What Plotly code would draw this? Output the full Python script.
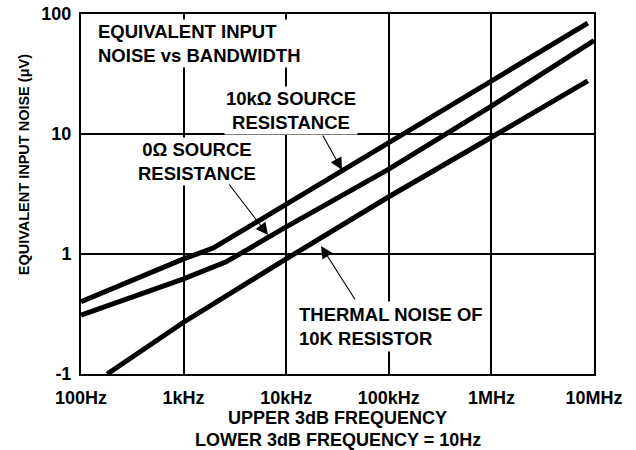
import plotly.graph_objects as go

# ---- data ----
freq_10k = [100, 1000, 1940, 1e4, 1e5, 1e6, 8.7e6]
noise_10k = [0.40, 0.91, 1.12, 2.6, 8.7, 27.7, 84]

freq_0 = [100, 1000, 2600, 1e4, 1e5, 1e6, 1e7]
noise_0 = [0.31, 0.62, 0.86, 1.68, 5.1, 17.1, 60]

freq_th = [180, 1000, 1e4, 1e5, 1e6, 8.7e6]
noise_th = [0.10, 0.27, 0.91, 3.0, 9.4, 27.7]

x_tickvals = [1e2, 1e3, 1e4, 1e5, 1e6, 1e7]
x_ticktext = ["100Hz", "1kHz", "10kHz", "100kHz", "1MHz", "10MHz"]
y_tickvals = [0.1, 1, 10, 100]
y_ticktext = ["-1", "1", "10", "100"]

FONT = "Liberation Sans, Arial, Helvetica, sans-serif"
FS = 18.5

fig = go.Figure()
for fx, fy in [(freq_10k, noise_10k), (freq_0, noise_0), (freq_th, noise_th)]:
    fig.add_trace(go.Scatter(x=fx, y=fy, mode="lines",
                             line=dict(color="black", width=5),
                             showlegend=False, hoverinfo="skip"))

axis_common = dict(type="log", showgrid=True, gridcolor="black", gridwidth=2,
                   showline=True, linecolor="black", linewidth=2, mirror=True,
                   ticks="", zeroline=False, automargin=False,
                   ticklabeloverflow="allow",
                   tickfont=dict(family=FONT, size=18, color="black"))

fig.update_xaxes(range=[2, 7], tickvals=x_tickvals,
                 ticktext=["<b>%s</b>" % t for t in x_ticktext],
                 ticklabelstandoff=6, **axis_common)
fig.update_yaxes(range=[-1, 2], tickvals=y_tickvals,
                 ticktext=["<b>%s</b>" % t for t in y_ticktext],
                 ticklabelstandoff=4, **axis_common)

tf = dict(family=FONT, size=FS, color="black")
ann = []
# text labels (log10 data coordinates)
ann.append(dict(x=2.146, y=1.754, xref="x", yref="y", xanchor="left", yanchor="middle",
                align="left", showarrow=False, bgcolor="white", borderpad=1,
                text="<b>EQUIVALENT INPUT<br>NOISE vs BANDWIDTH</b>", font=tf))
ann.append(dict(x=4.047, y=1.2, xref="x", yref="y", xanchor="center", yanchor="middle",
                align="center", showarrow=False, bgcolor="white", borderpad=1,
                text="<b>10kΩ SOURCE<br>RESISTANCE</b>", font=tf))
ann.append(dict(x=3.131, y=0.775, xref="x", yref="y", xanchor="center", yanchor="middle",
                align="center", showarrow=False, bgcolor="white", borderpad=1,
                text="<b>0Ω SOURCE<br>RESISTANCE</b>", font=tf))
ann.append(dict(x=4.095, y=-0.6, xref="x", yref="y", xanchor="left", yanchor="middle",
                align="left", showarrow=False, bgcolor="white", borderpad=2,
                text="<b>THERMAL NOISE OF<br>10K RESISTOR</b>", font=tf))

def px2x(px):
    return 2 + (px - 81) / 102.6

def px2y(py):
    return 2 - (py - 14) / 120.0

# arrows (tip, tail)
for tip, tail in [((268, 235), (228, 183)), ((342, 170), (322, 134)), ((321, 246), (356, 301))]:
    ann.append(dict(x=px2x(tip[0]), y=px2y(tip[1]), ax=px2x(tail[0]), ay=px2y(tail[1]),
                    xref="x", yref="y", axref="x", ayref="y", text="", showarrow=True,
                    arrowhead=2, arrowsize=2.2, arrowwidth=1.1, arrowcolor="black", standoff=0))

# x-axis title, two lines placed separately
ann.append(dict(x=0.5, y=-0.122, xref="paper", yref="paper", xanchor="center", yanchor="middle",
                showarrow=False, text="<b>UPPER 3dB FREQUENCY</b>",
                font=dict(family=FONT, size=18, color="black")))
ann.append(dict(x=0.5, y=-0.184, xref="paper", yref="paper", xanchor="center", yanchor="middle",
                showarrow=False, text="<b>LOWER 3dB FREQUENCY = 10Hz</b>",
                font=dict(family=FONT, size=18, color="black")))
ann.append(dict(x=-0.111, y=0.58, xref="paper", yref="paper", xanchor="center", yanchor="middle",
                showarrow=False, textangle=-90,
                text="<b>EQUIVALENT INPUT NOISE (μV)</b>",
                font=dict(family=FONT, size=14.5, color="black")))

fig.update_layout(width=636, height=450, margin=dict(l=81, r=42, t=14, b=76),
                  plot_bgcolor="white", paper_bgcolor="white", annotations=ann,
                  font=dict(family=FONT, color="black"))

fig.write_html("out.html", config={"displayModeBar": False},
               post_script="document.body.style.margin='0';document.body.style.overflow='hidden';")
